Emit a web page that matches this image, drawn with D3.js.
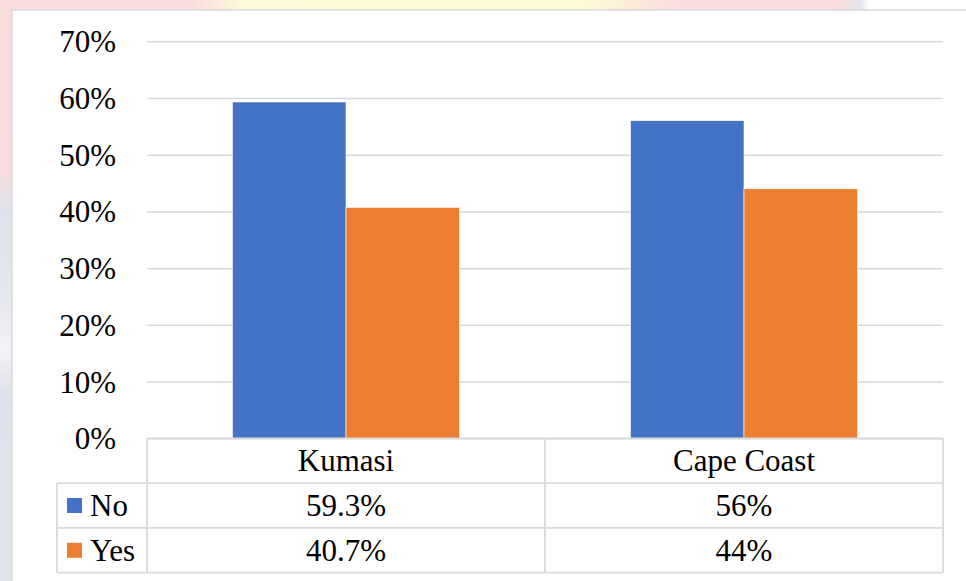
<!DOCTYPE html>
<html>
<head>
<meta charset="utf-8">
<script src="https://cdn.jsdelivr.net/npm/d3@7"></script>
<style>
  body { margin: 0; background: #fff; }
  svg { display: block; font-family: "Liberation Serif", "Times New Roman", serif; }
</style>
</head>
<body>
<script>
// data
const categories = ['Kumasi', 'Cape Coast'];
const seriesNames = ['No', 'Yes'];
const noValues = [0.593, 0.56];
const yesValues = [0.407, 0.44];
const noLabels = ['59.3%', '56%'];
const yesLabels = ['40.7%', '44%'];
const yTicks = [0, 0.1, 0.2, 0.3, 0.4, 0.5, 0.6, 0.7];
const colors = ['#4472c4', '#ed7d31'];

const svgWidth = 966;
const svgHeight = 581;
const plot = { left: 147, right: 943, top: 41.3, bottom: 438.3 };
const legendLeft = 57;
const rowH = 44.8;
const gridColor = '#d9d9d9';
const serif = '"Liberation Serif", "Times New Roman", serif';

const svg = d3.select('body').append('svg')
  .attr('width', svgWidth)
  .attr('height', svgHeight);

// faint watermark strips outside the chart frame
const defs = svg.append('defs');
const topGrad = defs.append('linearGradient').attr('id', 'topGrad');
[[0, '#f8dcdc'], [0.2, '#f9dede'], [0.25, '#fdf9d8'], [0.6, '#fdfbd6'], [0.7, '#f9dede'], [0.87, '#f8dcdc'], [0.89, '#e1e3ee'], [0.9, '#ffffff'], [1, '#ffffff']]
  .forEach(([o, c]) => topGrad.append('stop').attr('offset', o).attr('stop-color', c));
const leftGrad = defs.append('linearGradient').attr('id', 'leftGrad')
  .attr('x1', 0).attr('y1', 0).attr('x2', 0).attr('y2', 1);
[[0, '#f8dcdc'], [0.3, '#f6dcde'], [0.36, '#dfe1ea'], [0.5, '#e4e6ee'], [0.6, '#f2f2f6'], [0.68, '#dfe1ea'], [1, '#e2e4ec']]
  .forEach(([o, c]) => leftGrad.append('stop').attr('offset', o).attr('stop-color', c));

svg.append('rect').attr('x', 0).attr('y', 0).attr('width', svgWidth).attr('height', 10)
  .attr('fill', 'url(#topGrad)');
svg.append('rect').attr('x', 0).attr('y', 0).attr('width', 12).attr('height', svgHeight)
  .attr('fill', 'url(#leftGrad)');

// chart frame (only top and left edges are visible)
svg.append('rect').attr('x', 12).attr('y', 10).attr('width', svgWidth).attr('height', svgHeight)
  .attr('fill', '#fff');
svg.append('path')
  .attr('d', `M12,${svgHeight}V10H${svgWidth}`)
  .attr('fill', 'none').attr('stroke', gridColor).attr('stroke-width', 1.5);

// scales
const x = d3.scaleBand().domain(categories).range([plot.left, plot.right]).padding(0);
const xInner = d3.scaleBand().domain(seriesNames).range([0, x.bandwidth()])
  .paddingInner(0).paddingOuter(0.753);
const y = d3.scaleLinear().domain([0, 0.7]).range([plot.bottom, plot.top]);

// y axis with gridlines
const yAxis = svg.append('g')
  .attr('transform', `translate(${plot.left},0)`)
  .call(d3.axisLeft(y).tickValues(yTicks).tickFormat(d3.format('.0%'))
    .tickSize(-(plot.right - plot.left)).tickPadding(31));
yAxis.attr('font-family', serif).attr('font-size', 31);
yAxis.select('.domain').remove();
yAxis.selectAll('.tick line').attr('stroke', gridColor).attr('stroke-width', 1.5);
yAxis.selectAll('.tick text')
  .attr('fill', '#000')
  .attr('dy', '0.34em');

// bars
const series = [noValues, yesValues];
const barG = svg.append('g');
seriesNames.forEach((name, si) => {
  barG.selectAll(`rect.s${si}`)
    .data(categories)
    .join('rect')
    .attr('class', `s${si}`)
    .attr('x', (d) => x(d) + xInner(name))
    .attr('width', xInner.bandwidth())
    .attr('y', (d, i) => y(series[si][i]))
    .attr('height', (d, i) => y(0) - y(series[si][i]))
    .attr('fill', colors[si])
    .attr('stroke', '#fff')
    .attr('stroke-width', 0.6);
});

// data table under the axis
const table = svg.append('g')
  .attr('fill', 'none')
  .attr('stroke', gridColor)
  .attr('stroke-width', 1.8);
const tableBottom = plot.bottom + rowH * 3;

// horizontal lines
table.append('line').attr('x1', plot.left).attr('x2', plot.right)
  .attr('y1', plot.bottom).attr('y2', plot.bottom);
[1, 2, 3].forEach((r) => {
  table.append('line').attr('x1', legendLeft).attr('x2', plot.right)
    .attr('y1', plot.bottom + rowH * r).attr('y2', plot.bottom + rowH * r);
});
// vertical lines
table.append('line').attr('x1', legendLeft).attr('x2', legendLeft)
  .attr('y1', plot.bottom + rowH).attr('y2', tableBottom);
[...categories.map((c) => x(c)), plot.right].forEach((vx) => {
  table.append('line').attr('x1', vx).attr('x2', vx)
    .attr('y1', plot.bottom).attr('y2', tableBottom);
});

const textG = svg.append('g')
  .attr('font-family', serif)
  .attr('font-size', 31)
  .attr('fill', '#000');

// header row
textG.selectAll('text.cat')
  .data(categories)
  .join('text')
  .attr('class', 'cat')
  .attr('x', (d) => x(d) + x.bandwidth() / 2)
  .attr('y', plot.bottom + rowH / 2)
  .attr('dy', '0.34em')
  .attr('text-anchor', 'middle')
  .text((d) => d);

// value rows
[noLabels, yesLabels].forEach((labels, si) => {
  const rowMid = plot.bottom + rowH * (si + 1) + rowH / 2;
  textG.selectAll(`text.v${si}`)
    .data(categories)
    .join('text')
    .attr('class', `v${si}`)
    .attr('x', (d) => x(d) + x.bandwidth() / 2)
    .attr('y', rowMid)
    .attr('dy', '0.34em')
    .attr('text-anchor', 'middle')
    .text((d, i) => labels[i]);

  // legend keys
  svg.append('rect')
    .attr('x', 67).attr('y', rowMid - 7.5)
    .attr('width', 15).attr('height', 15)
    .attr('fill', colors[si]);
  textG.append('text')
    .attr('x', 90).attr('y', rowMid)
    .attr('dy', '0.34em')
    .text(seriesNames[si]);
});
</script>
</body>
</html>
